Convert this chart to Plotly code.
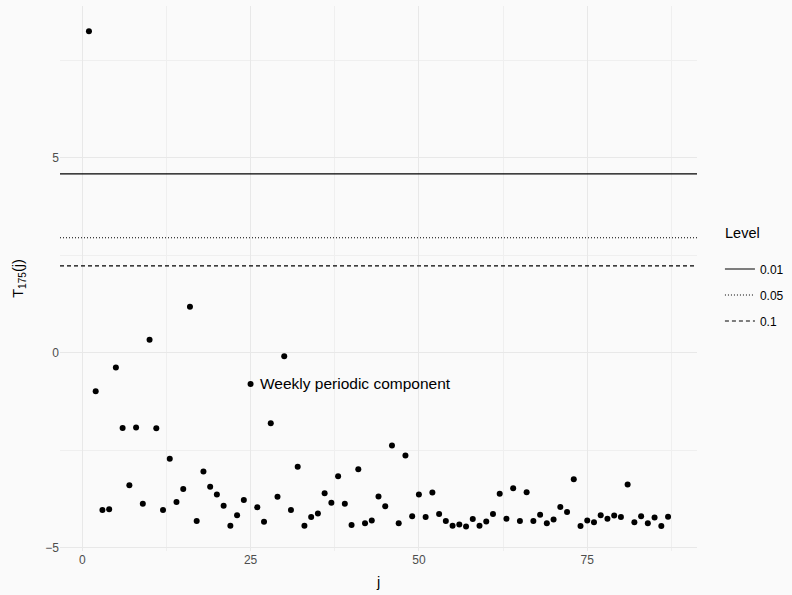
import plotly.graph_objects as go

j = list(range(1, 88))
T = [8.25, -0.99, -4.04, -4.02, -0.38, -1.93, -3.40, -1.92, -3.88, 0.33,
     -1.94, -4.04, -2.72, -3.83, -3.50, 1.18, -4.32, -3.05, -3.44, -3.64,
     -3.93, -4.44, -4.17, -3.78, -0.80, -3.97, -4.34, -1.81, -3.70, -0.09,
     -4.04, -2.93, -4.44, -4.22, -4.13, -3.61, -3.85, -3.17, -3.88, -4.42,
     -2.99, -4.38, -4.31, -3.69, -3.94, -2.38, -4.38, -2.64, -4.20, -3.64,
     -4.22, -3.59, -4.14, -4.32, -4.44, -4.41, -4.46, -4.27, -4.44, -4.33,
     -4.14, -3.62, -4.26, -3.48, -4.32, -3.58, -4.32, -4.16, -4.38, -4.28,
     -3.96, -4.09, -3.25, -4.45, -4.31, -4.35, -4.17, -4.26, -4.18, -4.22,
     -3.38, -4.35, -4.20, -4.38, -4.23, -4.45, -4.21]

levels = ["0.01", "0.05", "0.1"]
thresholds = [4.59, 2.95, 2.23]
dashes = ["solid", "1px,2px", "4px,3px"]
legend_title = "Level"

annot_j = 25
annot_text = "Weekly periodic component"

x_range = [-3.3, 91.3]
y_range = [-5.09, 8.9]

FONT = "Liberation Sans, Arial, sans-serif"
BG = "#fafafa"

fig = go.Figure()
fig.add_trace(go.Scatter(x=j, y=T, mode="markers",
                         marker=dict(color="black", size=6),
                         showlegend=False, hoverinfo="x+y"))
for lev, th, d in zip(levels, thresholds, dashes):
    fig.add_trace(go.Scatter(x=x_range, y=[th, th], mode="lines",
                             line=dict(color="black", width=1.1, dash=d),
                             name=lev, legendgroup=lev, showlegend=True))

fig.add_annotation(x=annot_j, y=T[annot_j - 1], text=annot_text,
                   showarrow=False, xanchor="left", yanchor="middle",
                   xshift=7, font=dict(family=FONT, size=15.5, color="black"))

fig.add_annotation(x=1.0408, y=0.5835, xref="paper", yref="paper",
                   text=legend_title, showarrow=False,
                   xanchor="left", yanchor="middle",
                   font=dict(family=FONT, size=14.5, color="black"))

fig.update_layout(
    width=792, height=595,
    margin=dict(l=60, r=95, t=6, b=44, autoexpand=False),
    paper_bgcolor=BG, plot_bgcolor=BG,
    font=dict(family=FONT, color="black"),
    legend=dict(font=dict(size=12, color="black"),
                x=1.036, xanchor="left", y=0.544, yanchor="top",
                bgcolor="rgba(0,0,0,0)", itemwidth=30, tracegroupgap=7),
    xaxis=dict(range=x_range, tickvals=[0, 25, 50, 75],
               showgrid=True, gridcolor="#e8e8e8", gridwidth=1.1,
               zeroline=False, showline=False, ticks="",
               tickfont=dict(size=12, color="#4d4d4d"),
               minor=dict(tickvals=[12.5, 37.5, 62.5, 87.5], showgrid=True,
                          gridcolor="#efefef", gridwidth=0.6),
               title=dict(text="j", font=dict(size=14.5, color="black"), standoff=10)),
    yaxis=dict(range=y_range, tickvals=[-5, 0, 5], ticktext=["\u22125", "0", "5"],
               showgrid=True, gridcolor="#e8e8e8", gridwidth=1.1,
               zeroline=False, showline=False, ticks="",
               tickfont=dict(size=12, color="#4d4d4d"),
               minor=dict(tickvals=[-2.5, 2.5, 7.5], showgrid=True,
                          gridcolor="#efefef", gridwidth=0.6),
               title=dict(text="T<sub>175</sub>(j)", font=dict(size=14.5, color="black"), standoff=18)),
)

fig.write_html("out.html", config={"displayModeBar": False},
               post_script="document.body.style.margin='0';document.body.style.background='#fafafa';")
